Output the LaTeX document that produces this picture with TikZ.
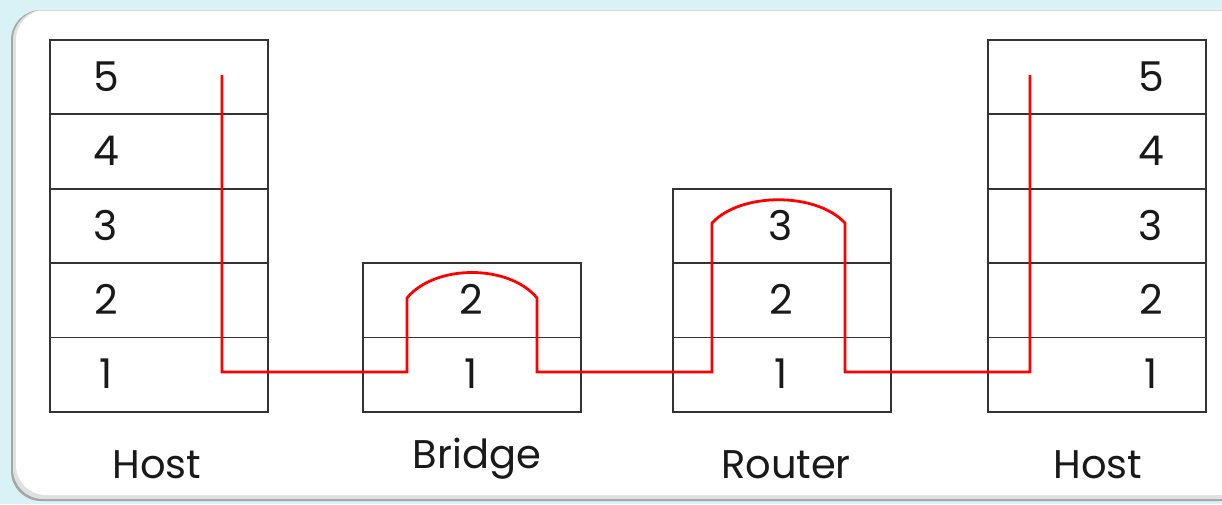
\documentclass[tikz,border=0pt]{standalone}
\usepackage{fontspec}
\setmainfont{Poppins}
\definecolor{bgc}{RGB}{216,242,246}
\begin{document}
\begin{tikzpicture}[x=1pt,y=-1pt,
  cell/.style={draw=black!80,line width=1.8pt,minimum width=218pt,minimum height=74.4pt,inner sep=0pt,anchor=north west},
  num/.style={font=\fontsize{41}{41}\selectfont,text=black!90,inner sep=0pt},
  lbl/.style={font=\fontsize{40}{40}\selectfont,text=black!90,inner sep=0pt,anchor=base},
  route/.style={draw=red,line width=2.8pt,line join=miter}]
\useasboundingbox (0,0) rectangle (1222,504);
\fill[bgc] (0,0) rectangle (1222,504);
% panel with shadow
\fill[black!35,rounded corners=30pt] (11,10) rectangle (1250,501);
\fill[black!12,rounded corners=30pt] (13,10) rectangle (1250,499);
\fill[white,rounded corners=30pt] (16,10) rectangle (1250,495);
\draw[black!15,line width=0.8pt] (40,10.5) -- (1222,10.5);
% left host
\foreach \i/\y in {5/39,4/113.4,3/187.8,2/262.2,1/336.6}{
  \node[cell] (hl\i) at (49,\y) {};
  \node[num] (hlt\i) at (106,\y+37.2) {\i};
}
% right host
\foreach \i/\y in {5/39,4/113.4,3/187.8,2/262.2,1/336.6}{
  \node[cell] (hr\i) at (987,\y) {};
  \node[num] (hrt\i) at (1151,\y+37.2) {\i};
}
% bridge
\foreach \i/\y in {2/262.2,1/336.6}{
  \node[cell] (b\i) at (362,\y) {};
  \node[num] (bt\i) at (471,\y+37.2) {\i};
}
% router
\foreach \i/\y in {3/187.8,2/262.2,1/336.6}{
  \node[cell] (r\i) at (672,\y) {};
  \node[num] (rt\i) at (781,\y+37.2) {\i};
}
% labels
\node[lbl] (lh) at (157,478) {Host};
\node[lbl] (lb) at (477,468) {Bridge};
\node[lbl] (lr) at (786,478) {Router};
\node[lbl] (rh) at (1098,478) {Host};
% route
\coordinate (s) at (222,75);
\coordinate (e) at (1030,75);
\draw[route] (s) -- (222,372) -- (407,372) -- (407,298)
  .. controls (435,264) and (509,264) .. (537,298)
  -- (537,372) -- (712,372) -- (712,223)
  .. controls (741,192) and (816,192) .. (845,223)
  -- (845,372) -- (1030,372) -- (e);
\end{tikzpicture}
\end{document}
